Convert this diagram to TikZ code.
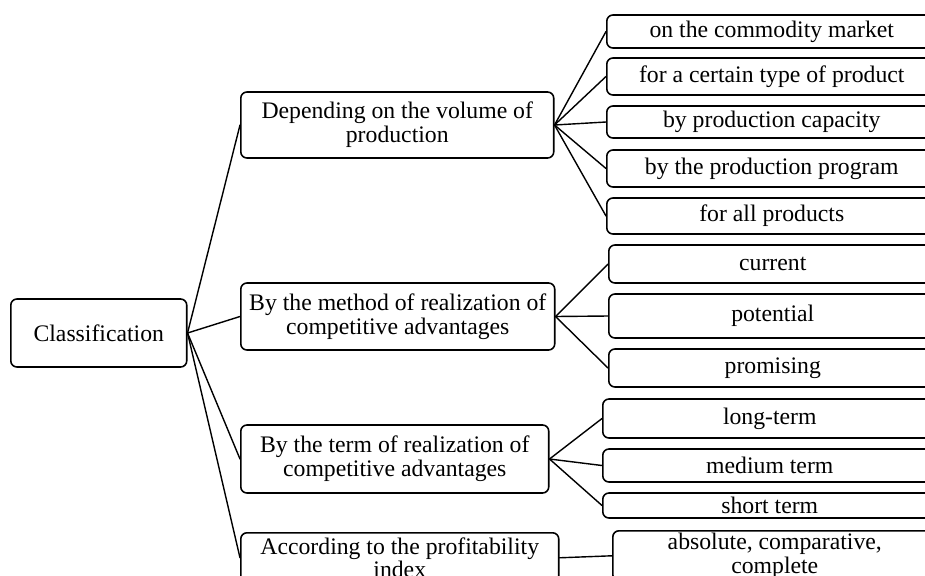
\documentclass[tikz,border=0pt]{standalone}
\usepackage{fontspec}
\setmainfont{Liberation Serif}
\begin{document}
\begin{tikzpicture}[x=0.02cm, y=-0.02cm, line cap=round, line join=round, line width=0.8pt, font=\fontsize{13.5}{13.5}\selectfont,
		box/.style={draw, line width=0.9pt, rounded corners=3.5pt, align=center, inner xsep=2pt, inner ysep=0pt, anchor=west},
		leaf/.style={box, minimum width=6.6cm}]
		\useasboundingbox (0,0) rectangle (925,575);
		\clip (0,0) rectangle (925,575);
		% root and groups
		\node[box, minimum width=3.52cm, minimum height=1.36cm] (cls) at (10,333) {Classification};
		\node[box, minimum width=6.26cm, minimum height=1.32cm] (vol) at (240,125) {Depending on the volume of\\production};
		\node[box, minimum width=6.28cm, minimum height=1.34cm] (meth) at (240,316.5) {By the method of realization of\\competitive advantages};
		\node[box, minimum width=6.16cm, minimum height=1.36cm] (term) at (240,459) {By the term of realization of\\competitive advantages};
		\node[box, anchor=north west, minimum width=6.36cm, minimum height=1cm] (prof) at (240,532) {According to the profitability\\index};
		% leaves
		\node[leaf, minimum height=0.66cm] (l1) at (606,31.5) {on the commodity market};
		\node[leaf, minimum height=0.74cm] (l2) at (606,76.5) {for a certain type of product};
		\node[leaf, minimum height=0.64cm] (l3) at (606,122) {by production capacity};
		\node[leaf, minimum height=0.74cm] (l4) at (606,168.5) {by the production program};
		\node[leaf, minimum height=0.72cm] (l5) at (606,216) {for all products};
		\node[leaf, minimum width=6.56cm, minimum height=0.76cm] (m1) at (608,264) {current};
		\node[leaf, minimum width=6.56cm, minimum height=0.88cm] (m2) at (608,316) {potential};
		\node[leaf, minimum width=6.56cm, minimum height=0.76cm] (m3) at (608,368) {promising};
		\node[leaf, minimum width=6.68cm, minimum height=0.78cm] (t1) at (602,418.5) {long-term};
		\node[leaf, minimum width=6.68cm, minimum height=0.66cm] (t2) at (602,465.5) {medium term};
		\node[leaf, minimum width=6.68cm, minimum height=0.5cm] (t3) at (602,505.5) {short term};
		\node[leaf, anchor=north west, minimum width=6.48cm, minimum height=1cm] (p1) at (612,530) {absolute, comparative,\\complete};
		% connectors
		\foreach \i in {vol,meth,term,prof}
			\draw (cls.east) -- (\i.west);
		\foreach \i in {l1,l2,l3,l4,l5}
			\draw (vol.east) -- (\i.west);
		\foreach \i in {m1,m2,m3}
			\draw (meth.east) -- (\i.west);
		\foreach \i in {t1,t2,t3}
			\draw (term.east) -- (\i.west);
		\draw (prof.east) -- (p1.west);
\end{tikzpicture}
\end{document}
